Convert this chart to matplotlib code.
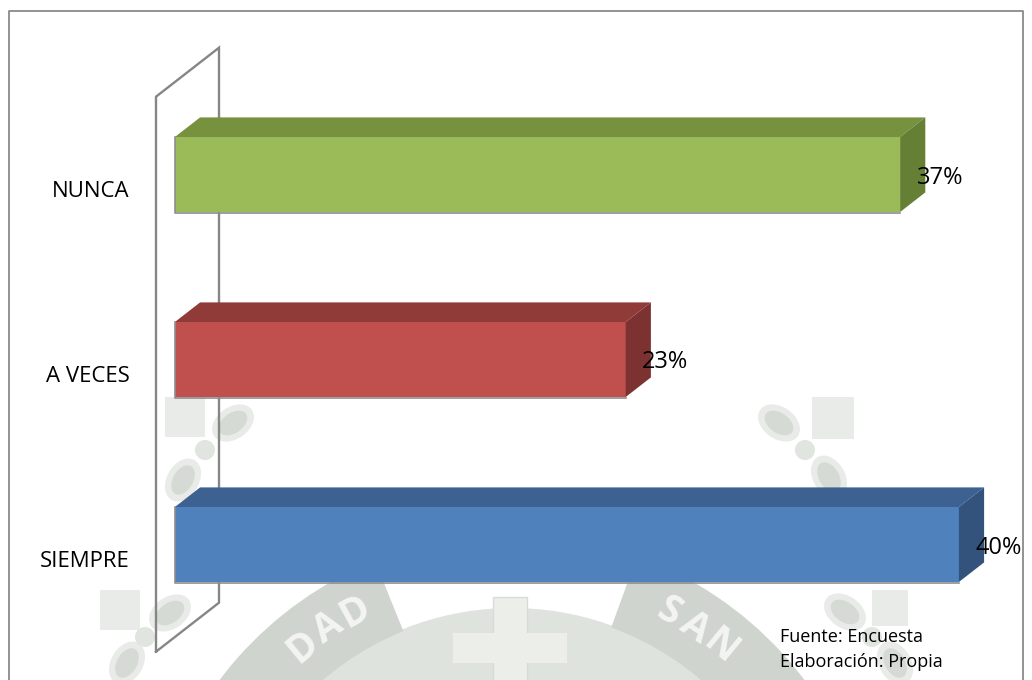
import numpy as np
import matplotlib.pyplot as plt
from matplotlib.patches import Wedge, Rectangle, Ellipse, Circle

plt.rcParams['font.family'] = ['Open Sans', 'DejaVu Sans']

# === DATA ===
categories = ['SIEMPRE', 'A VECES', 'NUNCA']
percentages = [40, 23, 37]
pct_labels = ['40%', '23%', '37%']
source_lines = ['Fuente: Encuesta', 'Elaboración: Propia']

# === STYLE ===
front_colors = ['#4f81bd', '#c0504d', '#9bbb59']
top_colors = ['#3d6190', '#913b39', '#77923f']
side_colors = ['#34537c', '#7c3230', '#657f35']
WALL_COLOR = '#868686'

W, H = 1032, 680
fig = plt.figure(figsize=(W / 100, H / 100), dpi=100)
fig.patch.set_facecolor('white')

# background layer in pixel units (y measured from the top)
bg = fig.add_axes([0, 0, 1, 1], zorder=0)
bg.set_xlim(0, W)
bg.set_ylim(0, H)
bg.axis('off')


def py(y):
    return H - y


# faint seal watermark
wm_c = (512, py(900))
bg.add_patch(Wedge(wm_c, 292, 15, 165, facecolor='#dfe3de', edgecolor='none'))
bg.add_patch(Wedge(wm_c, 366, 112, 165, width=76, facecolor='#cfd5ce', edgecolor='none'))
bg.add_patch(Wedge(wm_c, 366, 15, 70, width=76, facecolor='#cfd5ce', edgecolor='none'))
bg.add_patch(Rectangle((493, py(690)), 34, 93, facecolor='#eceeea', edgecolor='#d8dcd7'))
bg.add_patch(Rectangle((453, py(663)), 114, 30, facecolor='#eceeea', edgecolor='none'))
bg.add_patch(Rectangle((494, py(662)), 32, 28, facecolor='#eceeea', edgecolor='none'))
for word, angles in [('DAD', [129.5, 124, 118.5]), ('SAN', [61.5, 56, 50.5])]:
    for ch, a in zip(word, angles):
        t = np.radians(a)
        bg.text(wm_c[0] + 328 * np.cos(t), wm_c[1] + 328 * np.sin(t), ch,
                rotation=a - 90, rotation_mode='anchor', ha='center', va='center',
                fontsize=28, fontweight='bold', color='#f4f5f3')

ornaments = [
    # (square x, square y, size), ovals [(x, y, angle)], knot (x, y)
    ((165, 397, 40), [(233, 423, 35), (183, 480, 60)], (205, 450)),
    ((812, 397, 42), [(779, 423, -35), (829, 477, -60)], (805, 450)),
    ((100, 590, 40), [(170, 613, 35), (127, 663, 60)], (145, 637)),
    ((872, 590, 36), [(845, 612, -35), (895, 663, -60)], (872, 637)),
]
for (sx, sy, s), ovals, (kx, ky) in ornaments:
    bg.add_patch(Rectangle((sx, py(sy + s)), s, s, facecolor='#e8ebe7', edgecolor='none'))
    for ox, oy, ang in ovals:
        bg.add_patch(Ellipse((ox, py(oy)), 46, 32, angle=ang, facecolor='#e8ebe7', edgecolor='none'))
        bg.add_patch(Ellipse((ox, py(oy)), 32, 20, angle=ang, facecolor='#d5dad4', edgecolor='none'))
    bg.add_patch(Circle((kx, py(ky)), 10, facecolor='#e1e5e0', edgecolor='none'))

# outer chart frame
bg.plot([9, 9, 1023, 1023], [py(690), py(11), py(11), py(690)], color='#8a8a8a', lw=1.3)

# source note
for i, line in enumerate(source_lines):
    bg.text(780, py(642 + 25 * i), line, fontsize=13, va='baseline', ha='left', color='black')

# === 3D BAR CHART ===
PX, PY = 19.6, 185.0          # pixels per percent / per category
ORIGIN = (156, 559.2)         # pixel of (0, 0) at the front of the wall
XLIM, YLIM = (-2, 44), (-0.6, 2.85)
left_px = ORIGIN[0] + XLIM[0] * PX
right_px = ORIGIN[0] + XLIM[1] * PX
bottom_px = ORIGIN[1] - YLIM[0] * PY
top_px = ORIGIN[1] - YLIM[1] * PY
ax = fig.add_axes([left_px / W, (H - bottom_px) / H,
                   (right_px - left_px) / W, (bottom_px - top_px) / H], zorder=1)
ax.set_xlim(*XLIM)
ax.set_ylim(*YLIM)
ax.patch.set_alpha(0)
ax.axis('off')

# depth direction of the 3D box, in data units
DX, DY = 63 / PX, 49 / PY
D_FRONT, D_BACK = 0.3, 0.7
BAR_H = 75 / PY

# side wall of the category axis
n = len(categories)
wall_x = [0, 0, DX, DX, 0]
wall_y = [-0.5, n - 0.5, n - 0.5 + DY, -0.5 + DY, -0.5]
ax.plot(wall_x, wall_y, color=WALL_COLOR, lw=1.7, solid_joinstyle='miter', zorder=2)

ddx, ddy = (D_BACK - D_FRONT) * DX, (D_BACK - D_FRONT) * DY
for i, (v, lbl) in enumerate(zip(percentages, pct_labels)):
    x0 = D_FRONT * DX
    yc = i + D_FRONT * DY
    y_lo, y_hi = yc - BAR_H / 2, yc + BAR_H / 2
    ax.barh(yc, v, height=BAR_H, left=x0, color=front_colors[i], zorder=3)
    ax.fill([x0, x0 + v, x0 + v + ddx, x0 + ddx], [y_hi, y_hi, y_hi + ddy, y_hi + ddy],
            color=top_colors[i], lw=0, zorder=3)
    ax.fill([x0 + v, x0 + v, x0 + v + ddx, x0 + v + ddx], [y_lo, y_hi, y_hi + ddy, y_lo + ddy],
            color=side_colors[i], lw=0, zorder=3)
    ax.plot([x0, x0, x0 + v], [y_hi, y_lo - 0.004, y_lo - 0.004], color='#8d8d8d', lw=1.2, zorder=3)
    ax.text(x0 + v + 0.85, yc - 9 / PY, lbl, fontsize=17, ha='left', va='baseline', zorder=4)
    ax.text(-1.33, i - 8 / PY, categories[i], fontsize=16, ha='right', va='baseline', zorder=4)

fig.savefig('out.png', dpi=100)
